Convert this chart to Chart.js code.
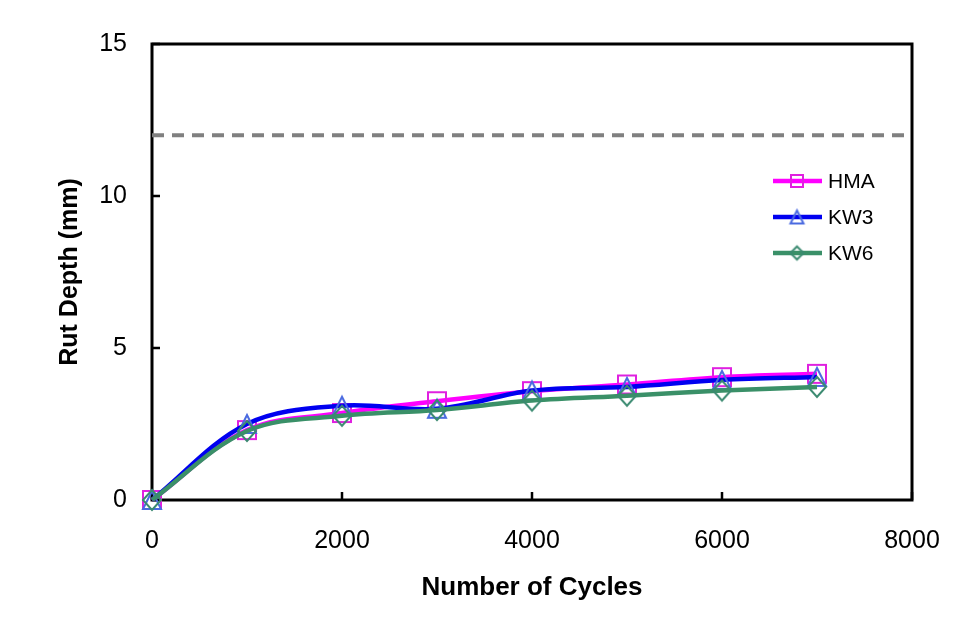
<!DOCTYPE html>
<html><head><meta charset="utf-8">
<script src="https://cdn.jsdelivr.net/npm/chart.js@4/dist/chart.umd.min.js"></script>
<style>html,body{margin:0;padding:0;background:#fff}</style></head>
<body>
<canvas id="c" width="974" height="621"></canvas>
<script>
const cycles = [0, 1000, 2000, 3000, 4000, 5000, 6000, 7000];
const hma = [0, 2.3, 2.86, 3.25, 3.58, 3.8, 4.04, 4.15];
const kw3 = [0, 2.5, 3.1, 3.0, 3.6, 3.72, 3.95, 4.05];
const kw6 = [0, 2.27, 2.77, 2.96, 3.27, 3.43, 3.6, 3.72];
const seriesNames = ['HMA', 'KW3', 'KW6'];
const limitX = [0, 8000];
const limitY = 12;
const xTickStep = 2000;
const yTickStep = 5;

function makeMarker(kind, w, h, color, lw) {
  const c = document.createElement('canvas');
  c.width = w + 4; c.height = h + 4;
  const g = c.getContext('2d');
  g.strokeStyle = color; g.lineWidth = lw;
  const x0 = 2, y0 = 2;
  g.beginPath();
  if (kind === 'square') g.rect(x0 + lw/2, y0 + lw/2, w - lw, h - lw);
  else if (kind === 'triangle') { g.moveTo(x0 + w/2, y0 + lw/2); g.lineTo(x0 + w - lw/2, y0 + h - lw/2); g.lineTo(x0 + lw/2, y0 + h - lw/2); g.closePath(); }
  else { g.moveTo(x0 + w/2, y0 + lw/2); g.lineTo(x0 + w - lw/2, y0 + h/2); g.lineTo(x0 + w/2, y0 + h - lw/2); g.lineTo(x0 + lw/2, y0 + h/2); g.closePath(); }
  g.stroke();
  return c;
}
const colors = { hma: '#FF00FF', kw3: '#0000F0', kw6: '#3A9068' };
const mColors = { hma: '#E020E0', kw3: '#4A6AE0', kw6: '#3A8A70' };
const mk = {
  hma: makeMarker('square', 20, 20, mColors.hma, 2),
  kw3: makeMarker('triangle', 20, 20, mColors.kw3, 2),
  kw6: makeMarker('diamond', 20, 22, mColors.kw6, 2)
};
const mkLeg = {
  hma: makeMarker('square', 14, 14, mColors.hma, 2),
  kw3: makeMarker('triangle', 15, 15, mColors.kw3, 2),
  kw6: makeMarker('diamond', 15, 15, mColors.kw6, 2)
};

function pts(ys) { return cycles.map((x, i) => ({x: x, y: ys[i]})); }

const framePlugin = {
  id: 'frame',
  beforeDatasetsDraw(chart) {
    const {ctx, chartArea: a, scales} = chart;
    ctx.save();
    ctx.strokeStyle = '#000'; ctx.lineWidth = 3;
    ctx.strokeRect(a.left, a.top, a.right - a.left, a.bottom - a.top);
    ctx.lineWidth = 2.5;
    ctx.beginPath();
    scales.y.ticks.forEach(t => {
      const py = scales.y.getPixelForValue(t.value);
      ctx.moveTo(a.left, py); ctx.lineTo(a.left + 8, py);
    });
    scales.x.ticks.forEach(t => {
      const px = scales.x.getPixelForValue(t.value);
      ctx.moveTo(px, a.bottom); ctx.lineTo(px, a.bottom - 8);
    });
    ctx.stroke();
    ctx.restore();
  },
  afterDraw(chart) {
    const ctx = chart.ctx;
    const keys = ['hma', 'kw3', 'kw6'];
    const ys = [181, 217, 253];
    ctx.save();
    keys.forEach((k, i) => {
      const ds = chart.data.datasets[i + 1];
      ctx.strokeStyle = ds.borderColor; ctx.lineWidth = 4.5;
      ctx.beginPath(); ctx.moveTo(773, ys[i]); ctx.lineTo(822, ys[i]); ctx.stroke();
      const m = mkLeg[k];
      ctx.drawImage(m, 797 - m.width/2, ys[i] - m.height/2);
      ctx.fillStyle = '#000';
      ctx.font = '21px "Liberation Sans", Arial, sans-serif';
      ctx.textBaseline = 'middle'; ctx.textAlign = 'left';
      ctx.fillText(ds.label, 828, ys[i] + 1);
    });
    ctx.restore();
  }
};

const tickFont = { family: '"Liberation Sans", Arial, sans-serif', size: 25 };
new Chart(document.getElementById('c'), {
  type: 'line',
  data: {
    datasets: [
      { label: 'limit', data: [{x: limitX[0], y: limitY}, {x: limitX[1], y: limitY}], borderColor: '#808080', borderWidth: 4, borderDash: [12, 8], pointRadius: 0, order: 9, clip: false },
      { label: seriesNames[0], data: pts(hma), borderColor: colors.hma, borderWidth: 4.5, pointStyle: mk.hma, tension: 0.35, order: 3, clip: false },
      { label: seriesNames[1], data: pts(kw3), borderColor: colors.kw3, borderWidth: 4.5, pointStyle: mk.kw3, tension: 0.35, order: 2, clip: false },
      { label: seriesNames[2], data: pts(kw6), borderColor: colors.kw6, borderWidth: 4.5, pointStyle: mk.kw6, tension: 0.35, order: 1, clip: false }
    ]
  },
  options: {
    responsive: false,
    animation: false,
    layout: { padding: { left: 0, right: 62, top: 44, bottom: 0 } },
    plugins: { legend: { display: false }, tooltip: { enabled: false } },
    scales: {
      x: {
        type: 'linear', min: 0, max: 8000,
        ticks: { stepSize: xTickStep, color: '#000', padding: 26, font: tickFont, callback: v => String(v) },
        grid: { display: false, drawTicks: false },
        border: { display: false },
        title: { display: true, text: 'Number of Cycles', color: '#000', padding: { top: 0, bottom: 18 }, font: { family: '"Liberation Sans", Arial, sans-serif', size: 26, weight: 'bold' } },
        afterFit(s) { s.height = 121; }
      },
      y: {
        type: 'linear', min: 0, max: 15,
        ticks: { stepSize: yTickStep, color: '#000', padding: 25, font: tickFont, callback: v => String(v) },
        grid: { display: false, drawTicks: false },
        border: { display: false },
        title: { display: true, text: 'Rut Depth (mm)', color: '#000', padding: { top: 55, bottom: 0 }, font: { family: '"Liberation Sans", Arial, sans-serif', size: 25, weight: 'bold' } },
        afterFit(s) { s.width = 152; }
      }
    }
  },
  plugins: [framePlugin]
});
</script>
</body></html>
